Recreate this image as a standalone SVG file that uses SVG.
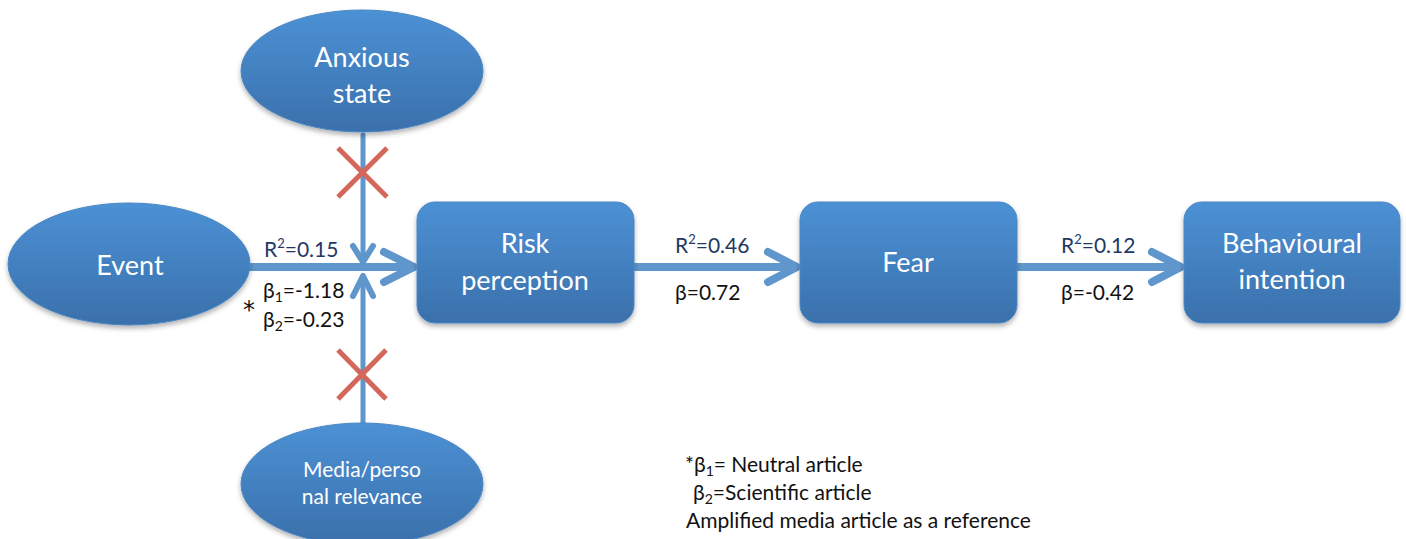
<svg xmlns="http://www.w3.org/2000/svg" width="1406" height="539" viewBox="0 0 1406 539">
<defs>
<linearGradient id="g" x1="0" y1="0" x2="0" y2="1">
<stop offset="0" stop-color="#4c91d5"/>
<stop offset="1" stop-color="#3a70ab"/>
</linearGradient>
<filter id="sh" x="-10%" y="-10%" width="120%" height="130%">
<feDropShadow dx="0" dy="3" stdDeviation="2.5" flood-color="#000" flood-opacity="0.3"/>
</filter>
<style>
.node{fill:url(#g);stroke:#4a86c4;stroke-width:1;filter:url(#sh)}
.nt{font-family:Lato,"Open Sans",sans-serif;fill:#fff;text-anchor:middle}
.lbl{font-family:Lato,"Open Sans",sans-serif;font-size:21px}
.r2{fill:#1f3864}
.b{fill:#111}
.conn{stroke:#5f96cc;fill:none;stroke-linecap:round;stroke-linejoin:round}
.x{stroke:#d4675b;stroke-width:5;stroke-linecap:butt}
</style>
</defs>

<g id="connectors">
<line class="conn" x1="250" y1="267" x2="413" y2="267" stroke-width="8"/>
<polyline class="conn" points="384,252 414,267 384,282" stroke-width="8"/>
<line class="conn" x1="634" y1="267" x2="796" y2="267" stroke-width="8"/>
<polyline class="conn" points="768,252 797,267 768,282" stroke-width="8"/>
<line class="conn" x1="1017" y1="267" x2="1180" y2="267" stroke-width="8"/>
<polyline class="conn" points="1152,252 1181,267 1152,282" stroke-width="8"/>
<line class="conn" x1="363" y1="135" x2="363" y2="262" stroke-width="5"/>
<polyline class="conn" points="353,246 363,262 373,246" stroke-width="6"/>
<line class="conn" x1="363" y1="423" x2="363" y2="276" stroke-width="5"/>
<polyline class="conn" points="353,296 363,276 373,296" stroke-width="6"/>
<line class="x" x1="338" y1="148" x2="387" y2="197"/>
<line class="x" x1="387" y1="148" x2="338" y2="197"/>
<line class="x" x1="338" y1="350" x2="386" y2="399"/>
<line class="x" x1="386" y1="350" x2="338" y2="399"/>
<text class="lbl r2" x="264" y="257">R<tspan font-size="13" dy="-9">2</tspan><tspan dy="9">=0.15</tspan></text>
<text class="lbl b" x="263" y="298">β<tspan font-size="14" dy="4">1</tspan><tspan dy="-4">=-1.18</tspan></text>
<text class="lbl b" x="263" y="327">β<tspan font-size="14" dy="4">2</tspan><tspan dy="-4">=-0.23</tspan></text>
<text x="243" y="318" font-family="'DejaVu Sans',sans-serif" font-size="24" fill="#111">*</text>
<text class="lbl r2" x="675" y="253">R<tspan font-size="13" dy="-9">2</tspan><tspan dy="9">=0.46</tspan></text>
<text class="lbl b" x="675" y="300">β=0.72</text>
<text class="lbl r2" x="1061" y="253">R<tspan font-size="13" dy="-9">2</tspan><tspan dy="9">=0.12</tspan></text>
<text class="lbl b" x="1061" y="300">β=-0.42</text>
</g>

<g id="anxious">
<ellipse class="node" cx="362" cy="71" rx="121" ry="61"/>
<text class="nt" x="362" y="67" font-size="27">Anxious</text>
<text class="nt" x="362" y="103" font-size="27">state</text>
</g>

<g id="event">
<ellipse class="node" cx="129" cy="264" rx="121" ry="61"/>
<text class="nt" x="130" y="275" font-size="27">Event</text>
</g>

<g id="media">
<ellipse class="node" cx="362" cy="484" rx="121" ry="61"/>
<text class="nt" x="362" y="477" font-size="21">Media/perso</text>
<text class="nt" x="362" y="504" font-size="21">nal relevance</text>
</g>

<g id="risk">
<rect class="node" x="417" y="202" width="217" height="121" rx="18"/>
<text class="nt" x="525" y="253" font-size="27">Risk</text>
<text class="nt" x="525" y="290" font-size="27">perception</text>
</g>

<g id="fear">
<rect class="node" x="800" y="202" width="217" height="121" rx="18"/>
<text class="nt" x="908" y="272" font-size="27">Fear</text>
</g>

<g id="behavioural">
<rect class="node" x="1184" y="202" width="216" height="121" rx="18"/>
<text class="nt" x="1292" y="253" font-size="27">Behavioural</text>
<text class="nt" x="1292" y="289" font-size="27">intention</text>
</g>

<g id="footnote">
<text class="lbl b" x="685" y="472" font-size="20">*β<tspan font-size="14" dy="4">1</tspan><tspan dy="-4">= Neutral article</tspan></text>
<text class="lbl b" x="693" y="500" font-size="20">β<tspan font-size="14" dy="4">2</tspan><tspan dy="-4">=Scientific article</tspan></text>
<text class="lbl b" x="686" y="528" font-size="20">Amplified media article as a reference</text>
</g>
</svg>
